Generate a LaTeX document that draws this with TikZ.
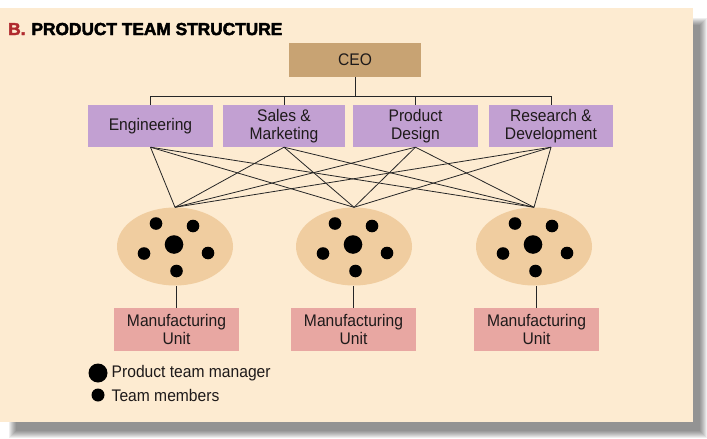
\documentclass[tikz,border=0pt]{standalone}
\usepackage{fontspec}
\setmainfont{Liberation Sans}[FakeStretch=0.93]
\newfontfamily\titlefont[BoldFeatures={FakeBold=2.6}]{Liberation Sans}
\usetikzlibrary{shapes.geometric}
\definecolor{panel}{HTML}{FDEBD1}
\definecolor{ceoc}{HTML}{C8A373}
\definecolor{purp}{HTML}{C2A0D2}
\definecolor{teamc}{HTML}{F0CDA0}
\definecolor{mfgc}{HTML}{E8A7A2}
\definecolor{titlered}{HTML}{B02A2E}
\definecolor{txt}{HTML}{1E1A1A}
\begin{document}
\begin{tikzpicture}[x=1pt,y=-1pt,
  boxbase/.style={inner sep=0pt, align=center, text=txt,
    font=\fontsize{16.8}{17.5}\selectfont},
  ceobox/.style={boxbase, fill=ceoc, minimum width=132pt, minimum height=34pt},
  deptbox/.style={boxbase, fill=purp, minimum width=124pt, minimum height=42pt},
  mfgbox/.style={boxbase, fill=mfgc, minimum width=125pt, minimum height=43pt},
  team/.style={ellipse, fill=teamc, inner sep=0pt, minimum width=116pt, minimum height=78pt},
  link/.style={draw=black!85, line width=0.8pt},
  bigdot/.style={fill=black},
  legtext/.style={anchor=west, inner sep=0pt, text=txt, font=\fontsize{16.8}{17.5}\selectfont}]
\useasboundingbox (0,0) rectangle (707,439);
% shadow
\foreach \i in {0,...,7}
  \fill[black, opacity=0.065] (9+\i,18+\i) rectangle (707-\i,438-\i);
% panel
\fill[panel] (0,8) rectangle (693,422);
% title
\node[anchor=base west, inner sep=0pt, font=\titlefont\bfseries\fontsize{17.3}{18}\selectfont] (title) at (8,35)
  {\textcolor{titlered}{B.}\hspace{6pt}PRODUCT TEAM STRUCTURE};
% CEO
\node[ceobox] (ceo) at (355,60) {CEO};
% departments
\node[deptbox, minimum width=125pt] (eng) at (150.5,126) {Engineering};
\node[deptbox, minimum width=122pt] (sal) at (284,126) {Sales \&\\Marketing};
\node[deptbox, minimum width=125pt] (pd) at (415.5,126) {Product\\Design};
\node[deptbox, minimum width=124pt] (rd) at (551,126) {Research \&\\Development};
\coordinate (bar) at (0,96);
\draw[link] (ceo.south) -- (ceo.south |- bar);
\draw[link] (eng.north |- bar) -- (rd.north |- bar);
\foreach \d in {eng,sal,pd,rd}
  \draw[link] (\d.north) -- (\d.north |- bar);
% teams
\node[team] (t1) at (175,246.5) {};
\node[team] (t2) at (354,246.5) {};
\node[team] (t3) at (534,246.5) {};
\foreach \d in {eng,sal,pd,rd}
  \foreach \t in {t1,t2,t3}
    \draw[link] (\d.south) -- (\t.north);
\foreach \t in {t1,t2,t3} {
  \fill[bigdot] (\t.center) ++(-1,-2) circle (9.3pt);
  \fill[bigdot] (\t.center) ++(-19,-23) circle (6.3pt);
  \fill[bigdot] (\t.center) ++(18,-20.5) circle (6.3pt);
  \fill[bigdot] (\t.center) ++(-31,7) circle (6.3pt);
  \fill[bigdot] (\t.center) ++(33,6.5) circle (6.3pt);
  \fill[bigdot] (\t.center) ++(1.5,24.5) circle (6.3pt);
}
% manufacturing units
\node[mfgbox] (m1) at (176.5,329.5) {Manufacturing\\Unit};
\node[mfgbox] (m2) at (353.5,329.5) {Manufacturing\\Unit};
\node[mfgbox] (m3) at (536.5,329.5) {Manufacturing\\Unit};
\draw[link] (m1.north) -- (m1.north |- t1.south);
\draw[link] (m2.north) -- (m2.north |- t2.south);
\draw[link] (m3.north) -- (m3.north |- t3.south);
% legend
\fill[bigdot] (98,373) circle (9.5pt);
\node[legtext] (l1) at (111.5,373) {Product team manager};
\fill[bigdot] (98,395) circle (6.5pt);
\node[legtext] (l2) at (111.5,395) {Team members};
\end{tikzpicture}
\end{document}
